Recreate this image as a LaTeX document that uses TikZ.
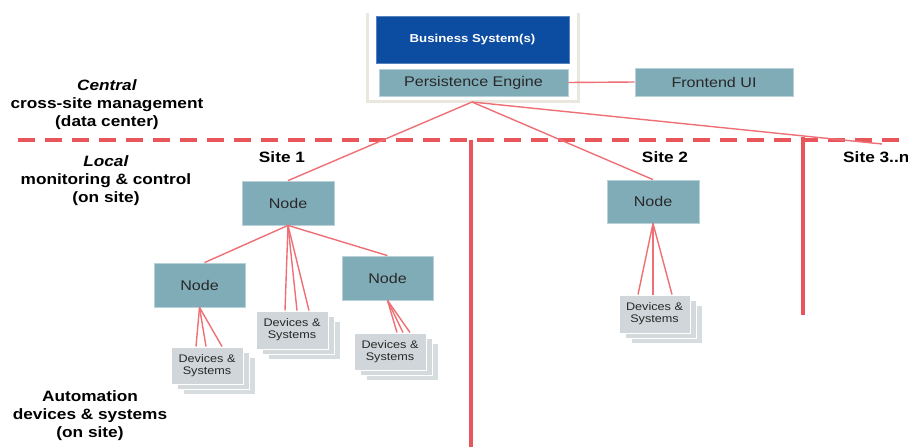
\documentclass[tikz,border=0pt]{standalone}
\usepackage{fontspec}
\setmainfont{Liberation Sans}[FakeStretch=1.15]
\usetikzlibrary{shadows}
\definecolor{tealbx}{RGB}{128,172,184}
\definecolor{bizblue}{RGB}{13,77,161}
\definecolor{framec}{RGB}{234,232,222}
\definecolor{lnred}{RGB}{238,112,118}
\definecolor{thkred}{RGB}{232,86,92}
\definecolor{devgrey}{RGB}{208,214,217}
\definecolor{txt}{RGB}{40,40,40}
\tikzset{
  tealbox/.style={fill=tealbx, draw=tealbx!55!white, line width=0.8pt, text=txt,
    font=\fontsize{14}{16}\selectfont, inner sep=0pt, minimum width=92pt, minimum height=44pt},
  bizbox/.style={fill=bizblue, draw=bizblue!70!white, line width=0.8pt, text=white,
    font=\bfseries\fontsize{11.5}{13}\selectfont, inner sep=0pt},
  devbox/.style={fill=devgrey, draw=white, line width=1pt, align=center, text=txt,
    font=\fontsize{11}{12}\selectfont, inner sep=0pt, minimum width=72pt, minimum height=37pt,
    copy shadow={shadow xshift=12pt, shadow yshift=-10pt, fill=devgrey!85!white, draw=white, line width=1pt},
    copy shadow={shadow xshift=6pt, shadow yshift=-5pt, fill=devgrey!92!white, draw=white, line width=1pt}},
  conn/.style={draw=lnred, line width=1.4pt},
  trunk/.style={draw=thkred, line width=3.5pt},
  divider/.style={draw=thkred, line width=3.5pt, dash pattern=on 17pt off 10pt},
  framebox/.style={draw=framec, line width=3pt},
  lbl/.style={font=\bfseries\fontsize{15}{18}\selectfont, align=center, text=black},
  sitelbl/.style={font=\bfseries\fontsize{15}{18}\selectfont, text=black}
}
\begin{document}
\begin{tikzpicture}[x=1pt,y=-1pt]
\useasboundingbox (0,0) rectangle (908,447);
\fill[white] (0,0) rectangle (908,447);
% central frame
\coordinate (fTL) at (367,13);
\coordinate (fBL) at (367,101);
\coordinate (fBR) at (578,101);
\coordinate (fTR) at (578,13);
\draw[framebox] (fTL) -- (fBL) -- (fBR) -- (fTR);
\node[bizbox, minimum width=193pt, minimum height=47pt] (bs) at (472.5,39.5) {Business System(s)};
\node[tealbox, minimum width=189pt, minimum height=27pt] (pe) at (473.5,82.5) {Persistence Engine};
\node[tealbox, minimum width=158pt, minimum height=28pt] (fe) at (714,82) {Frontend UI};
\draw[conn] (pe.east) -- (fe.west);
% divider
\coordinate (dL) at (18,140);
\coordinate (dR) at (908,140);
\draw[divider] (dL) -- (dR);
% labels
\node[lbl] (lc) at (107,104.5) {\textit{Central}\\cross-site management\\(data center)};
\node[lbl] (ll) at (106,181) {\textit{Local}\\monitoring \& control\\(on site)};
\node[lbl] (la) at (90,416) {Automation\\devices \& systems\\(on site)};
\node[sitelbl] (s1) at (282,157) {Site 1};
\node[sitelbl] (s2) at (665,157) {Site 2};
\node[sitelbl, anchor=west, inner xsep=0pt] (s3) at (843,157) {Site 3..n};
% nodes
\node[tealbox] (n1) at (288,203) {Node};
\node[tealbox, minimum width=91pt] (nl) at (199.5,285) {Node};
\node[tealbox, minimum width=91pt] (nr) at (387.5,278) {Node};
\node[tealbox, minimum height=43pt] (n2) at (653,201.5) {Node};
% devices
\node[devbox] (dl) at (207,365.5) {Devices \&\\Systems};
\node[devbox, minimum height=38pt] (dm) at (292,330) {Devices \&\\Systems};
\node[devbox] (dr) at (390,351.5) {Devices \&\\Systems};
\node[devbox, minimum width=71pt, minimum height=38pt] (d2) at (654.5,314) {Devices \&\\Systems};
% trunks
\coordinate (apex) at (472,102);
\coordinate (v1t) at (471,140);
\coordinate (v1b) at (471,447);
\coordinate (v3t) at (803,137);
\coordinate (v3b) at (803,315);
\coordinate (s3end) at (882,144);
\draw[trunk] (v1t) -- (v1b);
\draw[trunk] (v3t) -- (v3b);
\draw[conn] (apex) -- (n1.north);
\draw[conn] (apex) -- (n2.north);
\draw[conn] (apex) -- (s3end);
% site 1 tree
\draw[conn] (n1.south) -- ([xshift=5pt]nl.north);
\draw[conn] (n1.south) -- (nr.north);
\draw[conn] (n1.south) -- ([xshift=-7pt]dm.north);
\draw[conn] (n1.south) -- ([xshift=5pt]dm.north);
\draw[conn] (n1.south) -- ([xshift=17pt]dm.north);
\draw[conn] (nl.south) -- ([xshift=-11pt]dl.north);
\draw[conn] (nl.south) -- ([xshift=-1pt]dl.north);
\draw[conn] (nl.south) -- ([xshift=15pt]dl.north);
\draw[conn] (nr.south) -- ([xshift=7pt]dr.north);
\draw[conn] (nr.south) -- ([xshift=13pt]dr.north);
\draw[conn] (nr.south) -- ([xshift=20pt]dr.north);
% site 2 tree
\draw[conn] (n2.south) -- ([xshift=-16.5pt]d2.north);
\draw[conn] (n2.south) -- ([xshift=-1.5pt]d2.north);
\draw[conn] (n2.south) -- ([xshift=17.5pt]d2.north);
\end{tikzpicture}
\end{document}
